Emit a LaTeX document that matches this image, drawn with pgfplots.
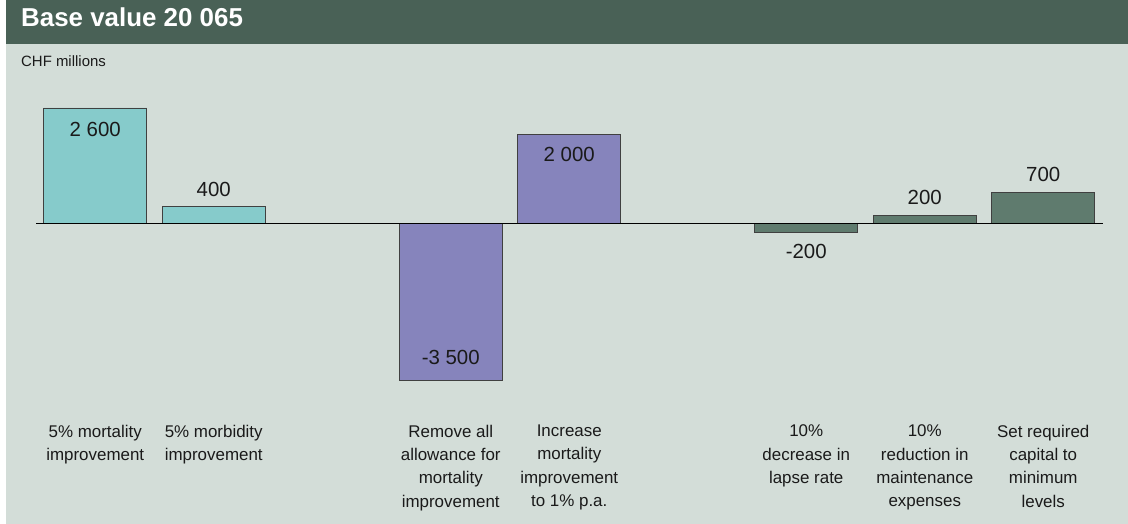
\documentclass[border=0pt]{standalone}
\usepackage{fontspec}
\setmainfont{Liberation Sans}
\usepackage{pgfplots}
\pgfplotsset{compat=1.18}
\definecolor{headbg}{RGB}{73,97,86}
\definecolor{panelbg}{RGB}{211,221,216}
\definecolor{barteal}{RGB}{134,203,203}
\definecolor{barlilac}{RGB}{134,132,188}
\definecolor{barsage}{RGB}{95,123,110}
\definecolor{ink}{RGB}{26,26,26}

\begin{document}
\begin{tikzpicture}[x=1bp,y=1bp]
% panel and header
\fill[white] (0,0) rectangle (1128,524);
\fill[panelbg] (6,0) rectangle (1128,524);
\fill[headbg] (6,480) rectangle (1128,524);
\node[anchor=base west, inner sep=0pt, text=white,
      font=\fontsize{26}{30}\selectfont\bfseries] at (21,497) {Base value 20 065};
\node[anchor=base west, inner sep=0pt, text=ink,
      font=\fontsize{15}{17}\selectfont] at (21,457.3) {CHF millions};
\begin{axis}[
  at={(36bp,103.8bp)}, anchor=south west,
  scale only axis, width=1066.5bp, height=339bp,
  xmin=-0.5, xmax=8.5, ymin=-4400, ymax=3200,
  axis line style={draw=none}, tick style={draw=none},
  ytick=\empty,
  xtick={0,1,3,4,6,7,8},
  xticklabels={
    {5\% mortality\\improvement},
    {5\% morbidity\\improvement},
    {Remove all\\allowance for\\mortality\\improvement},
    {Increase\\mortality\\improvement\\to 1\% p.a.},
    {10\%\\decrease in\\lapse rate},
    {10\%\\reduction in\\maintenance\\expenses},
    {Set required\\capital to\\minimum\\levels}},
  xticklabel style={anchor=north, align=center, inner sep=0pt, yshift=-4.5bp,
    text=ink, font=\fontsize{17}{23.5}\selectfont},
  clip=false,
]
\addplot[ybar, bar width=103bp, bar shift=0pt, fill=barteal, draw=black!75, line width=0.9pt]
  coordinates {(0,2600) (1,400)};
\addplot[ybar, bar width=103bp, bar shift=0pt, fill=barlilac, draw=black!75, line width=0.9pt]
  coordinates {(3,-3500) (4,2000)};
\addplot[ybar, bar width=103bp, bar shift=0pt, fill=barsage, draw=black!75, line width=0.9pt]
  coordinates {(6,-200) (7,200) (8,700)};
% zero line
\draw[black, line width=1pt] (axis cs:-0.5,0) -- (axis cs:8.5,0);
% value labels
\begin{scope}[every node/.style={text=ink, font=\fontsize{20.5}{24}\selectfont}]
\node at (axis cs:0,2600) [yshift=-22bp] {2 600};
\node at (axis cs:1,400) [yshift=17bp] {400};
\node at (axis cs:3,-3500) [yshift=23bp] {-3 500};
\node at (axis cs:4,2000) [yshift=-20bp] {2 000};
\node at (axis cs:6,-200) [yshift=-19bp] {-200};
\node at (axis cs:7,200) [yshift=18bp] {200};
\node at (axis cs:8,700) [yshift=18bp] {700};
\end{scope}
\end{axis}
\end{tikzpicture}
\end{document}
